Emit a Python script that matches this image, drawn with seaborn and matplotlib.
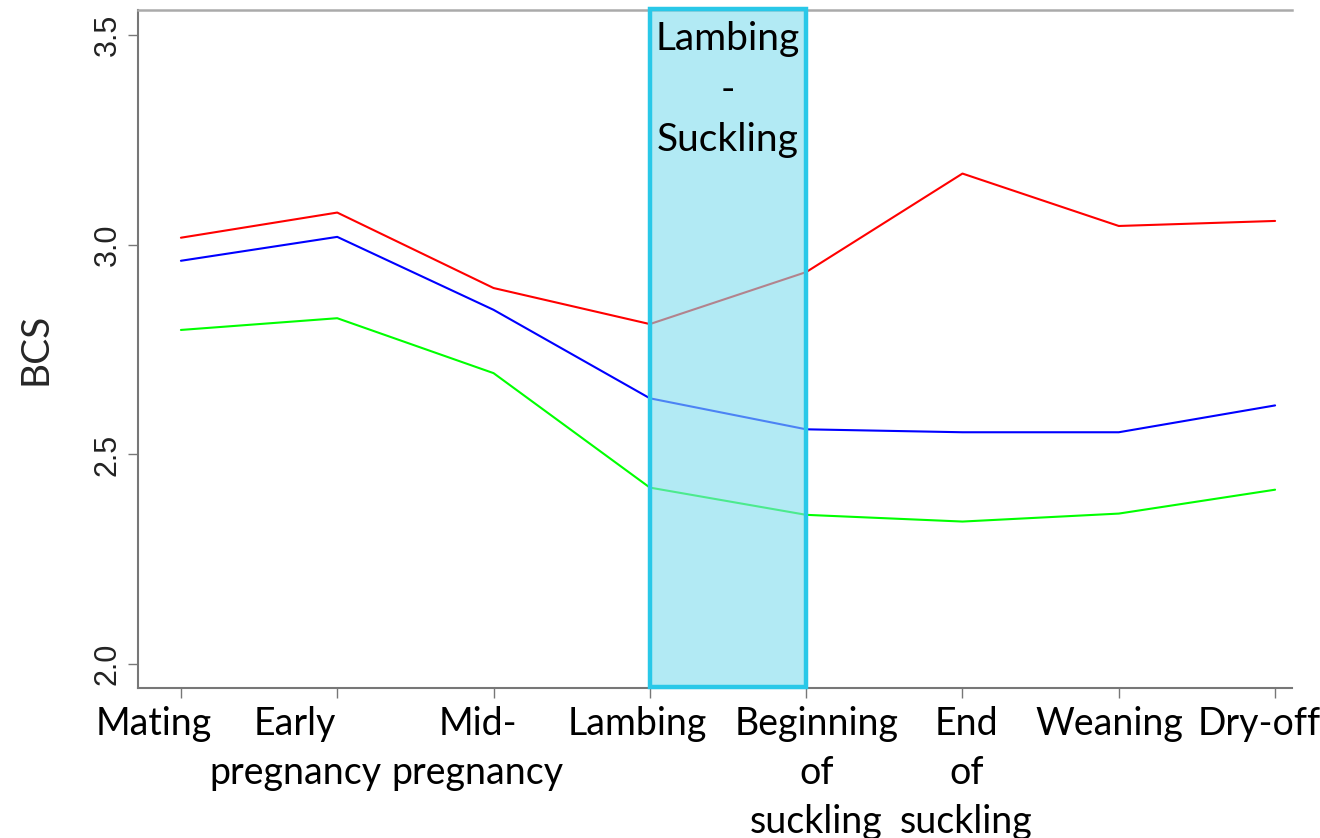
import matplotlib
matplotlib.use("Agg")
import matplotlib.pyplot as plt
import seaborn as sns
import pandas as pd
from matplotlib.patches import Rectangle

stages = ["Mating", "Early\npregnancy", "Mid-\npregnancy", "Lambing",
          "Beginning\nof\nsuckling", "End\nof\nsuckling", "Weaning", "Dry-off"]
red_vals = [3.017, 3.077, 2.897, 2.811, 2.935, 3.170, 3.045, 3.057]
blue_vals = [2.962, 3.019, 2.845, 2.634, 2.560, 2.553, 2.553, 2.617]
green_vals = [2.797, 2.825, 2.694, 2.421, 2.356, 2.340, 2.359, 2.416]
yticks = [2.0, 2.5, 3.0, 3.5]
highlight_label = "Lambing\n-\nSuckling"
highlight_span = (3, 4)

sns.set_theme(style="white")
plt.rcParams['font.family'] = ['Lato', 'DejaVu Sans']

rows = []
for name, vals in [("red", red_vals), ("blue", blue_vals), ("green", green_vals)]:
    for i, v in enumerate(vals):
        rows.append({"stage": i, "BCS": v, "series": name})
df = pd.DataFrame(rows)

fig = plt.figure(figsize=(13.2, 8.38), dpi=100)
ax = fig.add_axes([0.1045, 0.179, 0.8745, 0.809])

sns.lineplot(data=df, x="stage", y="BCS", hue="series",
             palette={"red": "#FF0000", "blue": "#0000FF", "green": "#00FF00"},
             linewidth=1.5, legend=False, ax=ax)

y0, y1 = 1.943, 3.56
ax.set_xlim(-0.275, 7.11)
ax.set_ylim(y0, y1)

rect = Rectangle((highlight_span[0], y0), highlight_span[1] - highlight_span[0], y1 - y0,
                 facecolor="#7FDCED", alpha=0.6, edgecolor="none", zorder=3, clip_on=False)
ax.add_patch(rect)
rect2 = Rectangle((highlight_span[0], y0 + 0.003), highlight_span[1] - highlight_span[0], y1 - y0,
                  facecolor="none", edgecolor="#29C8E8", linewidth=3.2, zorder=4, clip_on=False)
ax.add_patch(rect2)
ax.text((highlight_span[0] + highlight_span[1]) / 2, 3.533, highlight_label,
        ha="center", va="top", fontsize=28, color="black", linespacing=1.5, zorder=5)

# x tick labels, drawn as annotations so each can carry the small
# horizontal nudge (in pixels) seen in the reference layout
ax.set_xticks(range(len(stages)))
ax.set_xticklabels([])
nudges_px = [-27, -42, -16, -13, 10, 4, -9, -16]
for i, (lab, dx) in enumerate(zip(stages, nudges_px)):
    ax.annotate(lab, xy=(i, 0), xycoords=ax.get_xaxis_transform(),
                xytext=(dx * 0.72, -13), textcoords="offset points",
                ha="center", va="top", fontsize=27, linespacing=1.45,
                color="black", annotation_clip=False)

ax.set_yticks(yticks)
ax.set_yticklabels([f"{t:.1f}" for t in yticks], rotation=90, va="center",
                   fontsize=22, family=["Liberation Sans"], color="#222222")
ax.tick_params(axis="both", direction="out", length=7, width=1, color="#777777",
               bottom=True, left=True)
ax.tick_params(axis="x", colors="#777777", labelcolor="black", pad=6)
ax.tick_params(axis="y", colors="#777777", labelcolor="#222222", pad=4)

ax.set_xlabel("")
ax.set_ylabel("BCS", fontsize=28, labelpad=28)

for s in ["left", "bottom"]:
    ax.spines[s].set_color("#777777")
    ax.spines[s].set_linewidth(1.5)
ax.spines["top"].set_color("#AAAAAA")
ax.spines["top"].set_linewidth(1.8)
ax.spines["right"].set_visible(False)

fig.savefig("out.png", dpi=100)
